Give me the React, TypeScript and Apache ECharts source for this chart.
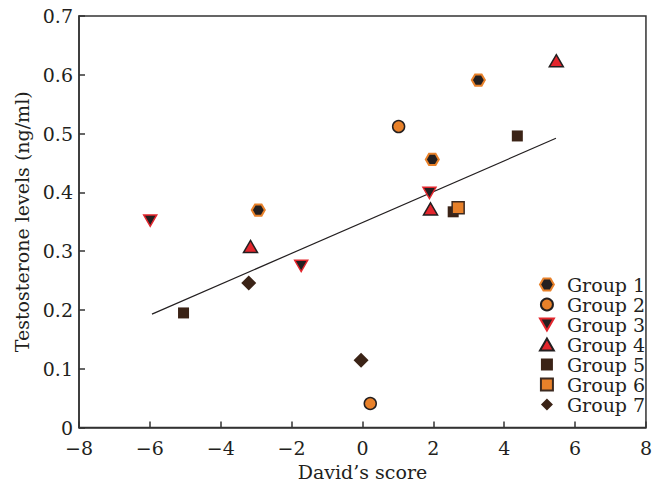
import React, { useEffect, useRef } from "react";
import * as echarts from "echarts";

const xTicks = [-8, -6, -4, -2, 0, 2, 4, 6, 8];
const yTicks = [0, 0.1, 0.2, 0.3, 0.4, 0.5, 0.6, 0.7];

const groupNames = ["Group 1", "Group 2", "Group 3", "Group 4", "Group 5", "Group 6", "Group 7"];
const g1x = [-2.94, 3.27, 1.97];
const g1y = [0.37, 0.591, 0.456];
const g2x = [1.02, 0.22];
const g2y = [0.512, 0.041];
const g3x = [-5.99, -1.73, 1.89];
const g3y = [0.352, 0.275, 0.399];
const g4x = [5.47, -3.16, 1.92];
const g4y = [0.624, 0.308, 0.372];
const g5x = [-5.05, 4.37, 2.56];
const g5y = [0.195, 0.496, 0.367];
const g6x = [2.7];
const g6y = [0.374];
const g7x = [-3.21, -0.04];
const g7y = [0.246, 0.1145];

const fitX = [-5.94, 5.46];
const fitY = [0.193, 0.492];

const ORANGE = "#e8812a";
const BROWN = "#3b2316";
const RED = "#e3262d";
const BLACK = "#231f20";
const FONT = "DejaVu Serif";

const zip = (xs: number[], ys: number[]) => xs.map((x, i) => [x, ys[i]]);

const HEX = "path://M0,4.33L2.5,0L7.5,0L10,4.33L7.5,8.66L2.5,8.66Z";
const DOWN = "path://M0,0L10,0L5,8.66Z";
const UP = "path://M5,0L10,8.66L0,8.66Z";
const SQUARE = "path://M0,0L10,0L10,10L0,10Z";
const DIAMOND = "path://M5,0L10,5L5,10L0,5Z";

export default function App() {
  const ref = useRef<HTMLDivElement>(null);
  useEffect(() => {
    document.body.style.margin = "0";
    if (!ref.current) return;
    const chart = echarts.init(ref.current, null, { renderer: "svg" });
    const minus = (v: number) => String(v).replace("-", "\u2212");
    const groups = [
      { data: zip(g1x, g1y), symbol: HEX, size: 13, itemStyle: { color: BLACK, borderColor: ORANGE, borderWidth: 2 } },
      { data: zip(g2x, g2y), symbol: "circle", size: 12, itemStyle: { color: ORANGE, borderColor: BLACK, borderWidth: 1.5 } },
      { data: zip(g3x, g3y), symbol: DOWN, size: 13, itemStyle: { color: BLACK, borderColor: RED, borderWidth: 1.5 } },
      { data: zip(g4x, g4y), symbol: UP, size: 14, itemStyle: { color: RED, borderColor: BLACK, borderWidth: 1.5 } },
      { data: zip(g5x, g5y), symbol: SQUARE, size: 11, itemStyle: { color: BROWN } },
      { data: zip(g6x, g6y), symbol: SQUARE, size: 12, itemStyle: { color: ORANGE, borderColor: "#3d2a20", borderWidth: 1.5 } },
      { data: zip(g7x, g7y), symbol: DIAMOND, size: 15, itemStyle: { color: BROWN } },
    ];
    chart.setOption({
      animation: false,
      backgroundColor: "#ffffff",
      grid: {
        left: 79,
        right: 5,
        top: 16,
        bottom: 56,
        show: true,
        borderColor: "#333",
        borderWidth: 1.5,
        backgroundColor: "transparent",
      },
      legend: {
        orient: "vertical",
        left: 534,
        top: 270,
        itemWidth: 30,
        itemHeight: 12,
        itemGap: 1,
        data: groupNames,
        textStyle: { fontFamily: FONT, fontSize: 19, color: "#231f20", lineHeight: 18, width: 90, overflow: "none" },
      },
      xAxis: {
        type: "value",
        min: -8,
        max: 8,
        interval: 2,
        name: "David\u2019s score",
        nameLocation: "middle",
        nameGap: 30,
        nameTextStyle: { fontFamily: FONT, fontSize: 19, color: "#231f20" },
        axisLine: { show: true, onZero: false, lineStyle: { color: "#333", width: 1.5 } },
        axisTick: { show: true, inside: true, length: 6, lineStyle: { color: "#333", width: 1.5 } },
        axisLabel: {
          fontFamily: FONT,
          fontSize: 19,
          lineHeight: 16,
          color: "#231f20",
          margin: 12,
          formatter: (v: number) => minus(v),
        },
        splitLine: { show: false },
      },
      yAxis: {
        type: "value",
        min: 0,
        max: 0.7,
        interval: 0.1,
        name: "Testosterone levels (ng/ml)",
        nameLocation: "middle",
        nameGap: 47,
        nameTextStyle: { fontFamily: FONT, fontSize: 19, color: "#231f20" },
        axisLine: { show: true, onZero: false, lineStyle: { color: "#333", width: 1.5 } },
        axisTick: { show: true, inside: true, length: 6, lineStyle: { color: "#333", width: 1.5 } },
        axisLabel: {
          fontFamily: FONT,
          fontSize: 19,
          lineHeight: 16,
          color: "#231f20",
          margin: 6,
          formatter: (v: number) => String(Math.round(v * 10) / 10),
        },
        splitLine: { show: false },
      },
      series: [
        {
          name: "fit",
          type: "line",
          data: zip(fitX, fitY),
          showSymbol: false,
          symbol: "none",
          lineStyle: { color: BLACK, width: 1.2 },
          silent: true,
          z: 1,
        },
        ...groups.map((g, i) => ({
          name: groupNames[i],
          type: "scatter",
          data: g.data,
          symbol: g.symbol,
          symbolSize: g.size,
          symbolKeepAspect: true,
          itemStyle: { ...g.itemStyle, opacity: 1 },
          z: 3,
        })),
      ],
    });
    return () => chart.dispose();
  }, []);
  return <div ref={ref} style={{ width: 655, height: 486 }} />;
}
